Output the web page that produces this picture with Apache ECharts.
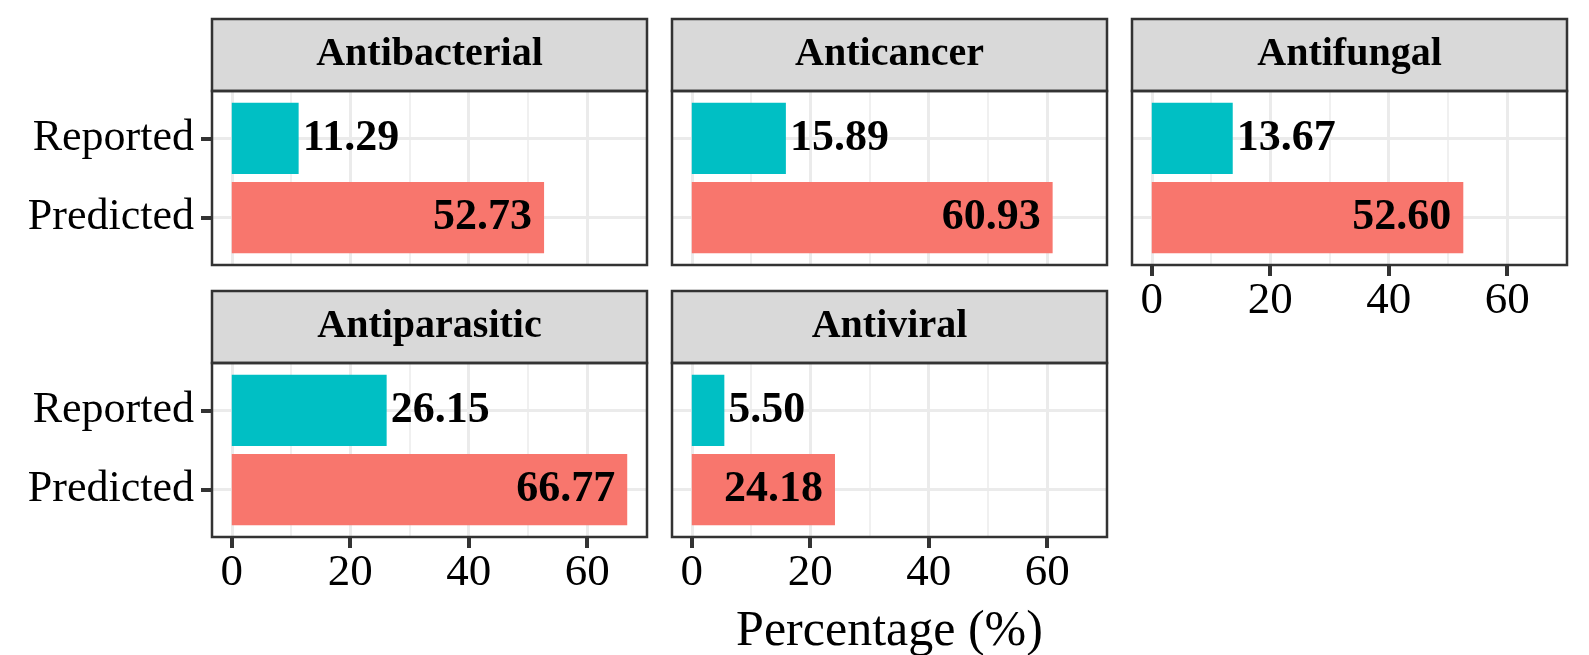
<!DOCTYPE html>
<html>
<head>
<meta charset="utf-8">
<script src="https://cdn.jsdelivr.net/npm/echarts@6/dist/echarts.min.js"></script>
<style>
    html, body { margin: 0; padding: 0; background: #fff; }
    #main { width: 1589px; height: 655px; }
</style>
</head>
<body>
<div id="main"></div>
<script>
    // 数据
    const facets = ['Antibacterial', 'Anticancer', 'Antifungal', 'Antiparasitic', 'Antiviral'];
    const categories = ['Reported', 'Predicted'];
    const reported = [11.29, 15.89, 13.67, 26.15, 5.50];
    const predicted = [52.73, 60.93, 52.60, 66.77, 24.18];
    // 刻度
    const majorTicks = [0, 20, 40, 60];
    const minorTicks = [10, 30, 50];
    const xTitle = 'Percentage (%)';

    let myChart = echarts.init(document.getElementById('main'));

    const font = '"Liberation Serif", "DejaVu Serif", serif';
    // ggplot 默认 5% 扩展
    const dataMax = Math.max(...predicted, ...reported);
    const xMin = -dataMax * 0.05;
    const xMax = dataMax * 1.05;

    // 面板布局
    const colLeft = [212, 672, 1132];
    const stripTop = [19, 291];
    const panelW = 435, stripH = 72, plotH = 174;
    const unit = plotH / 2.2;

    let grid = [], xAxis = [], yAxis = [], series = [], graphic = [];

    facets.forEach((name, i) => {
        let row = i < 3 ? 0 : 1;
        let col = i % 3;
        let left = colLeft[col];
        let top = stripTop[row] + stripH;
        let showX = i >= 2;
        let showY = col === 0;

        // 外框网格(竖线)
        let gF = grid.length;
        grid.push({left: left, top: top, width: panelW, height: plotH, show: false});
        // 柱子网格
        let gB = grid.length;
        grid.push({left: left, top: top + unit * 0.6, width: panelW, height: unit, show: false});

        xAxis.push({
            gridIndex: gF,
            type: 'value',
            min: xMin,
            max: xMax,
            position: 'bottom',
            axisLine: {show: false, onZero: false},
            axisTick: {
                show: showX,
                customValues: majorTicks,
                length: 11,
                lineStyle: {color: '#333', width: 4}
            },
            axisLabel: {
                show: showX,
                customValues: majorTicks,
                margin: 14,
                fontSize: 45,
                fontFamily: font,
                color: '#000'
            },
            splitLine: {show: true, lineStyle: {color: '#EBEBEB', width: 3}}
        });
        xAxis.push({
            gridIndex: gF,
            type: 'value',
            min: xMin,
            max: xMax,
            position: 'top',
            axisLine: {show: false, onZero: false},
            axisTick: {show: false, customValues: minorTicks},
            axisLabel: {show: false, customValues: minorTicks},
            splitLine: {show: true, lineStyle: {color: '#EBEBEB', width: 1.5}}
        });
        yAxis.push({gridIndex: gF, type: 'value', min: 0, max: 1, show: false});

        let xB = xAxis.length;
        xAxis.push({gridIndex: gB, type: 'value', min: xMin, max: xMax, show: false});
        let yB = yAxis.length;
        yAxis.push({
            gridIndex: gB,
            type: 'category',
            data: categories,
            inverse: true,
            boundaryGap: false,
            axisLine: {show: false, onZero: false},
            axisTick: {show: showY, length: 11, lineStyle: {color: '#333', width: 4}},
            axisLabel: {show: showY, margin: 18, fontSize: 44, fontFamily: font, color: '#000'},
            splitLine: {show: true, lineStyle: {color: '#EBEBEB', width: 3}}
        });

        series.push({
            type: 'bar',
            xAxisIndex: xB,
            yAxisIndex: yB,
            barWidth: unit * 0.9,
            clip: false,
            z: 3,
            label: {
                show: true,
                fontSize: 44,
                fontWeight: 'bold',
                fontFamily: font,
                color: '#000',
                formatter: p => p.value.toFixed(2)
            },
            data: [
                {value: reported[i], itemStyle: {color: '#00BFC4'}, label: {position: 'right', distance: 4}},
                {value: predicted[i], itemStyle: {color: '#F8766D'}, label: {position: 'insideRight', distance: 12}}
            ]
        });

        // 分面标题条
        graphic.push({
            type: 'rect',
            z: 100,
            shape: {x: left, y: stripTop[row], width: panelW, height: stripH},
            style: {fill: '#D9D9D9', stroke: '#333', lineWidth: 2.5}
        });
        graphic.push({
            type: 'text',
            z: 101,
            x: left + panelW / 2,
            y: stripTop[row] + stripH / 2,
            style: {
                text: name,
                fontSize: 40,
                fontWeight: 'bold',
                fontFamily: font,
                fill: '#000',
                align: 'center',
                verticalAlign: 'middle'
            }
        });
        // 面板边框
        graphic.push({
            type: 'rect',
            z: 100,
            shape: {x: left, y: top, width: panelW, height: plotH},
            style: {fill: null, stroke: '#333', lineWidth: 2.5}
        });
    });

    // x 轴标题, 居中于全部面板下方
    graphic.push({
        type: 'text',
        z: 101,
        x: (colLeft[0] + colLeft[2] + panelW) / 2,
        y: 632,
        style: {
            text: xTitle,
            fontSize: 50,
            fontFamily: font,
            fill: '#000',
            align: 'center',
            verticalAlign: 'middle'
        }
    });

    let option = {
        animation: false,
        backgroundColor: '#fff',
        grid: grid,
        xAxis: xAxis,
        yAxis: yAxis,
        series: series,
        graphic: graphic
    };
    myChart.setOption(option);
</script>
</body>
</html>
